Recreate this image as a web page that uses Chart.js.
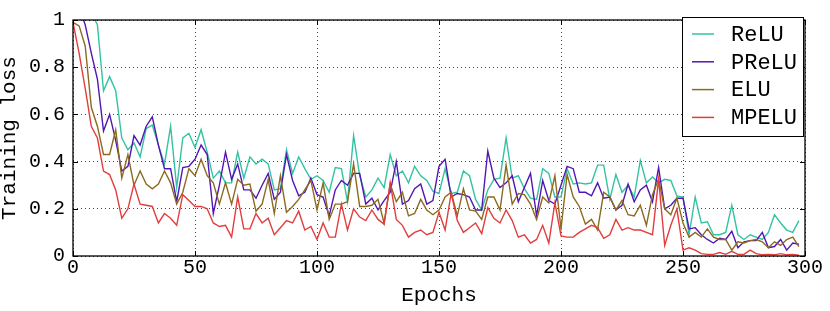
<!DOCTYPE html>
<html>
<head>
<meta charset="utf-8">
<title>Training loss</title>
<script src="https://cdn.jsdelivr.net/npm/chart.js@4.4.0/dist/chart.umd.min.js"></script>
<style>
  html, body { margin: 0; padding: 0; background: #fff; }
  #wrap { width: 830px; height: 311px; }
</style>
</head>
<body>
<div id="wrap"><canvas id="myChart" width="830" height="311"></canvas></div>
<script>
// x positions (one sample every 2.5 epochs)
const epochs = Array.from({ length: 120 }, (_, i) => i * 2.5);

const relu = [
  1.1, 1.1, 1.08, 1.03, 0.98, 0.70, 0.76, 0.70, 0.50, 0.45,
  0.48, 0.42, 0.54, 0.555, 0.47, 0.39, 0.55, 0.29, 0.50, 0.52,
  0.46, 0.535, 0.44, 0.33, 0.36, 0.31, 0.31, 0.44, 0.33, 0.42,
  0.39, 0.41, 0.39, 0.28, 0.285, 0.45, 0.35, 0.42, 0.37, 0.325,
  0.34, 0.32, 0.27, 0.375, 0.37, 0.23, 0.51, 0.34, 0.25, 0.28,
  0.33, 0.29, 0.43, 0.34, 0.36, 0.31, 0.38, 0.34, 0.32, 0.275,
  0.265, 0.37, 0.265, 0.27, 0.36, 0.34, 0.24, 0.195, 0.28, 0.325,
  0.33, 0.50, 0.33, 0.34, 0.285, 0.245, 0.24, 0.37, 0.35, 0.25,
  0.25, 0.37, 0.305, 0.31, 0.305, 0.31, 0.385, 0.385, 0.24, 0.345,
  0.27, 0.30, 0.25, 0.405, 0.31, 0.335, 0.31, 0.325, 0.32, 0.255,
  0.25, 0.09, 0.25, 0.14, 0.145, 0.09, 0.09, 0.10, 0.215, 0.09,
  0.07, 0.09, 0.08, 0.07, 0.10, 0.175, 0.14, 0.11, 0.10, 0.15
];

const prelu = [
  1.1, 1.05, 0.98, 0.86, 0.75, 0.53, 0.60, 0.49, 0.36, 0.38,
  0.51, 0.47, 0.55, 0.59, 0.47, 0.37, 0.37, 0.23, 0.375, 0.38,
  0.41, 0.47, 0.43, 0.18, 0.30, 0.44, 0.325, 0.39, 0.28, 0.28,
  0.245, 0.30, 0.35, 0.24, 0.27, 0.43, 0.32, 0.255, 0.27, 0.33,
  0.26, 0.25, 0.17, 0.28, 0.32, 0.30, 0.35, 0.35, 0.22, 0.245,
  0.195, 0.235, 0.27, 0.40, 0.22, 0.235, 0.285, 0.305, 0.22, 0.235,
  0.38, 0.41, 0.25, 0.265, 0.26, 0.25, 0.195, 0.195, 0.445, 0.33,
  0.29, 0.31, 0.34, 0.23, 0.29, 0.35, 0.17, 0.32, 0.235, 0.22,
  0.30, 0.38, 0.37, 0.27, 0.27, 0.255, 0.31, 0.245, 0.25, 0.195,
  0.215, 0.305, 0.23, 0.28, 0.30, 0.23, 0.375, 0.20, 0.215, 0.245,
  0.245, 0.115, 0.12, 0.09, 0.07, 0.055, 0.075, 0.07, 0.105, 0.035,
  0.06, 0.065, 0.065, 0.10, 0.035, 0.04, 0.07, 0.025, 0.055, 0.05
];

const elu = [
  0.99, 0.975, 0.89, 0.63, 0.55, 0.43, 0.43, 0.535, 0.33, 0.43,
  0.30, 0.36, 0.305, 0.285, 0.305, 0.36, 0.31, 0.22, 0.27, 0.37,
  0.34, 0.41, 0.34, 0.31, 0.22, 0.31, 0.22, 0.325, 0.30, 0.305,
  0.19, 0.22, 0.325, 0.18, 0.34, 0.185, 0.21, 0.24, 0.28, 0.32,
  0.195, 0.31, 0.155, 0.22, 0.22, 0.23, 0.39, 0.21, 0.21, 0.215,
  0.24, 0.14, 0.305, 0.23, 0.27, 0.17, 0.18, 0.24, 0.195, 0.175,
  0.195, 0.25, 0.27, 0.17, 0.285, 0.195, 0.19, 0.155, 0.25, 0.25,
  0.195, 0.385, 0.22, 0.265, 0.26, 0.22, 0.155, 0.25, 0.225, 0.34,
  0.115, 0.345, 0.25, 0.21, 0.135, 0.155, 0.11, 0.27, 0.25, 0.195,
  0.235, 0.175, 0.17, 0.215, 0.13, 0.26, 0.325, 0.20, 0.175, 0.245,
  0.14, 0.08, 0.10, 0.08, 0.115, 0.08, 0.07, 0.07, 0.025, 0.06,
  0.055, 0.065, 0.07, 0.06, 0.035, 0.06, 0.045, 0.07, 0.08, 0.04
];

const mpelu = [
  0.99, 0.86, 0.71, 0.55, 0.50, 0.36, 0.345, 0.28, 0.16, 0.20,
  0.305, 0.22, 0.215, 0.21, 0.14, 0.18, 0.16, 0.13, 0.26, 0.235,
  0.21, 0.21, 0.20, 0.14, 0.125, 0.13, 0.08, 0.25, 0.115, 0.115,
  0.18, 0.14, 0.16, 0.09, 0.12, 0.15, 0.14, 0.19, 0.11, 0.125,
  0.07, 0.14, 0.08, 0.08, 0.22, 0.11, 0.20, 0.165, 0.15, 0.195,
  0.155, 0.135, 0.31, 0.155, 0.13, 0.08, 0.10, 0.11, 0.09, 0.10,
  0.185, 0.11, 0.265, 0.15, 0.10, 0.12, 0.14, 0.095, 0.205, 0.16,
  0.14, 0.195, 0.15, 0.08, 0.09, 0.055, 0.07, 0.13, 0.055, 0.225,
  0.085, 0.08, 0.08, 0.10, 0.115, 0.13, 0.12, 0.075, 0.09, 0.155,
  0.11, 0.12, 0.11, 0.11, 0.10, 0.09, 0.325, 0.045, 0.13, 0.20,
  0.025, 0.035, 0.025, 0.01, 0.007, 0.007, 0.015, 0.007, 0.02, 0.007,
  0.007, 0.025, 0.01, 0.005, 0.007, 0.005, 0.01, 0.005, 0.007, 0.003
];

const seriesNames = ["ReLU", "PReLU", "ELU", "MPELU"];
const seriesColors = ["#34c3a2", "#5216b2", "#8c6a1e", "#e23d3d"];
const xTicks = [0, 50, 100, 150, 200, 250, 300];
const yTicks = [0, 0.2, 0.4, 0.6, 0.8, 1];

const mono = "'Liberation Mono', 'DejaVu Sans Mono', monospace";

// frame, inward ticks and the boxed legend
const framePlugin = {
  id: "frame",
  afterDraw(chart) {
    const { ctx, chartArea: a, scales } = chart;
    ctx.save();
    ctx.strokeStyle = "#000";
    ctx.lineWidth = 1;
    ctx.beginPath();
    xTicks.forEach(v => {
      const x = Math.round(scales.x.getPixelForValue(v)) + 0.5;
      ctx.moveTo(x, a.bottom); ctx.lineTo(x, a.bottom - 5);
      ctx.moveTo(x, a.top); ctx.lineTo(x, a.top + 5);
    });
    yTicks.forEach(v => {
      const y = Math.round(scales.y.getPixelForValue(v)) + 0.5;
      ctx.moveTo(a.left, y); ctx.lineTo(a.left + 5, y);
      ctx.moveTo(a.right, y); ctx.lineTo(a.right - 5, y);
    });
    ctx.stroke();

    ctx.lineWidth = 1.3;
    ctx.strokeRect(a.left, a.top, a.right - a.left, a.bottom - a.top);

    // legend
    const lx = 682, ly = 17, lw = 121, lh = 119;
    ctx.fillStyle = "#fff";
    ctx.fillRect(lx, ly, lw, lh);
    ctx.lineWidth = 1;
    ctx.strokeRect(lx + 0.5, ly + 0.5, lw, lh);
    ctx.font = "22px " + mono;
    ctx.textBaseline = "middle";
    ctx.textAlign = "left";
    seriesNames.forEach((name, i) => {
      const y = 34 + i * 27.8;
      ctx.strokeStyle = seriesColors[i];
      ctx.lineWidth = 1.5;
      ctx.beginPath();
      ctx.moveTo(lx + 10, y);
      ctx.lineTo(lx + 32, y);
      ctx.stroke();
      ctx.fillStyle = "#000";
      ctx.fillText(name, lx + 49, y + 1);
    });
    ctx.restore();
  }
};

const ctx = document.getElementById("myChart");

const myChart = new Chart(ctx, {
  type: "line",
  data: {
    labels: epochs,
    datasets: [relu, prelu, elu, mpelu].map((vals, i) => ({
      label: seriesNames[i],
      data: vals,
      borderColor: seriesColors[i],
      backgroundColor: seriesColors[i],
      borderWidth: 1.4,
      pointRadius: 0,
      tension: 0,
      fill: false,
      order: 3 - i
    }))
  },
  options: {
    responsive: false,
    animation: false,
    layout: { padding: { top: 10, right: 25, bottom: 0, left: 0 } },
    plugins: {
      legend: { display: false },
      tooltip: { enabled: false }
    },
    scales: {
      x: {
        type: "linear",
        min: 0,
        max: 300,
        afterFit: s => { s.height = 55; },
        afterBuildTicks: s => { s.ticks = xTicks.map(v => ({ value: v })); },
        ticks: { color: "#000", font: { family: mono, size: 20 }, padding: 0, maxRotation: 0 },
        grid: { color: "#444", lineWidth: 1, drawTicks: false },
        border: { display: false, dash: [1, 3] },
        title: {
          display: true,
          text: "Epochs",
          color: "#000",
          font: { family: mono, size: 21, lineHeight: 1 },
          padding: { top: 0, bottom: 5 }
        }
      },
      y: {
        min: 0,
        max: 1,
        afterFit: s => { s.width = 73; },
        afterBuildTicks: s => { s.ticks = yTicks.map(v => ({ value: v })); },
        ticks: {
          color: "#000",
          font: { family: mono, size: 20 },
          padding: 8,
          callback: v => String(+v.toFixed(1))
        },
        grid: { color: "#444", lineWidth: 1, drawTicks: false },
        border: { display: false, dash: [1, 3] },
        title: {
          display: true,
          text: "Training loss",
          color: "#000",
          font: { family: mono, size: 21, lineHeight: 1 },
          padding: { top: -1, bottom: 0 }
        }
      }
    }
  },
  plugins: [framePlugin]
});
</script>
</body>
</html>
